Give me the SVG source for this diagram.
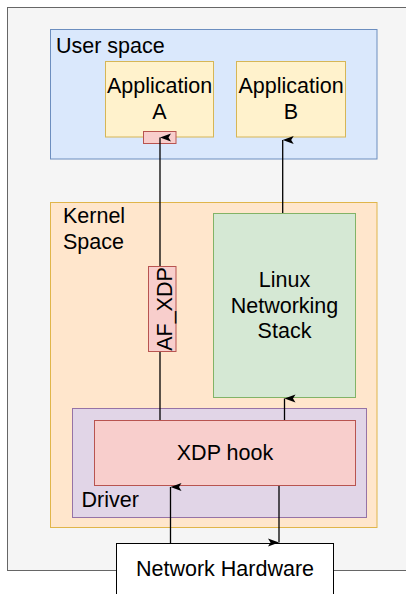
<svg xmlns="http://www.w3.org/2000/svg" width="406" height="594" viewBox="0 0 406 594">
<style>
text{font-family:"Liberation Sans",Arial,sans-serif;font-size:21.5px;fill:#000}
.c{text-anchor:middle}
.ln{stroke:#000;stroke-width:1.3;fill:none}
</style>
<defs>
<marker id="ah" viewBox="-5 -1 10 12" markerWidth="10" markerHeight="12" refX="0" refY="0" orient="auto-start-reverse" markerUnits="userSpaceOnUse">
<path d="M0,0 L4,11 L0,8.5 L-4,11 Z" fill="#000"/>
</marker>
</defs>
<rect width="406" height="594" fill="#ffffff"/>
<g id="outer"><rect x="7.5" y="7.5" width="420" height="563" fill="#f5f5f5" stroke="#666666" stroke-width="1"/></g>
<g id="user-space">
<rect x="50.5" y="29.5" width="326.5" height="129.5" fill="#dae8fc" stroke="#6c8ebf" stroke-width="1"/>
<text x="56" y="53">User space</text>
</g>
<g id="app-a">
<rect x="105.5" y="61.5" width="108" height="75.5" fill="#fff2cc" stroke="#d6b656" stroke-width="1"/>
<text class="c" x="159.5" y="93">Application</text>
<text class="c" x="159.5" y="119">A</text>
</g>
<g id="app-b">
<rect x="236.5" y="61.5" width="109" height="75.5" fill="#fff2cc" stroke="#d6b656" stroke-width="1"/>
<text class="c" x="291" y="93">Application</text>
<text class="c" x="291" y="119">B</text>
</g>
<g id="socket">
<rect x="143.5" y="131.5" width="32.5" height="12" fill="#f8cecc" stroke="#b85450" stroke-width="1"/>
</g>
<g id="kernel-space">
<rect x="50.5" y="202.5" width="326.5" height="325" fill="#ffe6cc" stroke="#e0b54a" stroke-width="1"/>
<text x="63" y="223">Kernel</text>
<text x="63" y="249">Space</text>
</g>
<g id="linux-stack">
<rect x="213.5" y="213.5" width="142" height="184" fill="#d5e8d4" stroke="#82b366" stroke-width="1"/>
<text class="c" x="284.5" y="287">Linux</text>
<text class="c" x="284.5" y="313">Networking</text>
<text class="c" x="284.5" y="338">Stack</text>
</g>
<g id="driver">
<rect x="72.5" y="408.5" width="294" height="109" fill="#e1d5e7" stroke="#9673a6" stroke-width="1"/>
<text x="81.5" y="507">Driver</text>
</g>
<g id="xdp-hook">
<rect x="94.5" y="420.5" width="261" height="65" fill="#f8cecc" stroke="#b85450" stroke-width="1"/>
<text class="c" x="225" y="460">XDP hook</text>
</g>
<g id="network-hardware">
<rect x="116.5" y="543.5" width="217" height="60" fill="#ffffff" stroke="#000000" stroke-width="1"/>
<text class="c" x="225" y="576">Network Hardware</text>
</g>
<g id="connectors">
<line class="ln" x1="160" y1="420" x2="160" y2="137.5" marker-end="url(#ah)"/>
<line class="ln" x1="282.7" y1="213" x2="282.7" y2="140" marker-end="url(#ah)"/>
<line class="ln" x1="284.5" y1="420" x2="284.5" y2="398.5" marker-end="url(#ah)"/>
<line class="ln" x1="170.5" y1="543" x2="170.5" y2="487" marker-end="url(#ah)"/>
<line class="ln" x1="279" y1="486" x2="279" y2="542.5" marker-end="url(#ah)"/>
</g>
<g id="af-xdp">
<rect x="148.5" y="266.5" width="27.5" height="85" fill="#f8cecc" stroke="#b85450" stroke-width="1"/>
<text class="c" transform="translate(171.5,309) rotate(-90)" x="0" y="0">AF_XDP</text>
</g>
</svg>
